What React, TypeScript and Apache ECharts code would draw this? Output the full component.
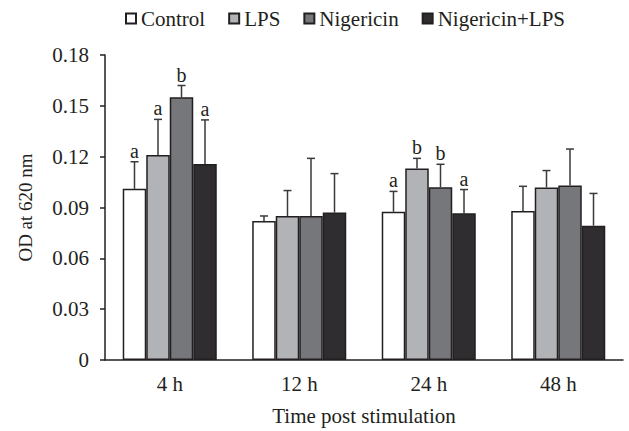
import React, { useEffect, useRef } from "react";
import * as echarts from "echarts";

const categories = ["4 h", "12 h", "24 h", "48 h"];
const seriesNames = ["Control", "LPS", "Nigericin", "Nigericin+LPS"];
const controlValues = [0.101, 0.082, 0.0875, 0.088];
const controlErrors = [0.016, 0.003, 0.012, 0.0145];
const lpsValues = [0.121, 0.085, 0.113, 0.1018];
const lpsErrors = [0.021, 0.015, 0.006, 0.01];
const nigericinValues = [0.155, 0.085, 0.102, 0.103];
const nigericinErrors = [0.007, 0.034, 0.0135, 0.0215];
const nigLpsValues = [0.1157, 0.087, 0.0866, 0.0793];
const nigLpsErrors = [0.026, 0.023, 0.014, 0.019];
const controlLetters = ["a", "", "a", ""];
const lpsLetters = ["a", "", "b", ""];
const nigericinLetters = ["b", "", "b", ""];
const nigLpsLetters = ["a", "", "a", ""];
const yTicks = [0, 0.03, 0.06, 0.09, 0.12, 0.15, 0.18];

const FONT = "Liberation Serif";
const INK = "#231f20";
const colors = ["#ffffff", "#b2b3b7", "#76777b", "#2f2d2f"];
const GAP = 0.274;

export default function App() {
  const ref = useRef<HTMLDivElement>(null);
  useEffect(() => {
    if (!ref.current) return;
    const chart = echarts.init(ref.current, null, { renderer: "svg" });
    const values = [controlValues, lpsValues, nigericinValues, nigLpsValues];
    const errors = [controlErrors, lpsErrors, nigericinErrors, nigLpsErrors];
    const letters = [controlLetters, lpsLetters, nigericinLetters, nigLpsLetters];

    const barSeries = values.map((vals, i) => ({
      name: seriesNames[i],
      type: "bar",
      data: vals,
      barGap: "0%",
      barCategoryGap: GAP * 100 + "%",
      itemStyle: { color: colors[i], borderColor: INK, borderWidth: 1.5 },
    }));

    const errSeries = values.map((vals, si) => ({
      type: "custom",
      data: vals.map((v, ci) => [ci, v, errors[si][ci]]),
      z: 5,
      renderItem: (params: any, api: any) => {
        const ci = api.value(0);
        const mean = api.value(1);
        const err = api.value(2);
        const letter = letters[si][ci];
        const band = api.size([1, 0])[0];
        const bw = (band * (1 - GAP)) / 4;
        const base = api.coord([ci, mean]);
        const top = api.coord([ci, mean + err]);
        const x = base[0] + (si - 1.5) * bw;
        const children: any[] = [
          {
            type: "line",
            shape: { x1: x, y1: base[1], x2: x, y2: top[1] },
            style: { stroke: "#3a3a3c", lineWidth: 1.5 },
          },
          {
            type: "line",
            shape: { x1: x - 4, y1: top[1], x2: x + 4, y2: top[1] },
            style: { stroke: "#3a3a3c", lineWidth: 1.5 },
          },
        ];
        if (letter) {
          children.push({
            type: "text",
            style: {
              text: letter,
              x: x,
              y: top[1] - 1,
              align: "center",
              verticalAlign: "bottom",
              fontSize: 20,
              fontFamily: FONT,
              fill: INK,
            },
          });
        }
        return { type: "group", children };
      },
    }));

    chart.setOption({
      animation: false,
      backgroundColor: "#ffffff",
      textStyle: { fontFamily: FONT },
      legend: {
        data: seriesNames,
        left: 120,
        top: 3,
        icon: "rect",
        itemWidth: 10,
        itemHeight: 10,
        itemGap: 23,
        textStyle: { fontSize: 21, fontFamily: FONT, color: INK },
      },
      grid: { left: 105, right: 6, top: 55, bottom: 69, containLabel: false },
      xAxis: {
        type: "category",
        data: categories,
        name: "Time post stimulation",
        nameLocation: "middle",
        nameGap: 45,
        nameTextStyle: { fontSize: 21, fontFamily: FONT, color: INK },
        axisLine: { lineStyle: { color: INK, width: 1.5 } },
        axisTick: { show: false },
        axisLabel: { fontSize: 21, fontFamily: FONT, color: INK, margin: 13 },
      },
      yAxis: {
        type: "value",
        min: yTicks[0],
        max: yTicks[yTicks.length - 1],
        interval: yTicks[1] - yTicks[0],
        name: "OD at 620 nm",
        nameLocation: "middle",
        nameRotate: 90,
        nameGap: 70,
        nameTextStyle: { fontSize: 19, fontFamily: FONT, color: INK },
        axisLine: { show: true, lineStyle: { color: INK, width: 1.5 } },
        axisTick: { show: true, inside: false, length: 5, lineStyle: { color: INK, width: 1.5 } },
        splitLine: { show: false },
        axisLabel: {
          fontSize: 21,
          fontFamily: FONT,
          color: INK,
          margin: 16,
          formatter: (v: number) => (v === 0 ? "0" : v.toFixed(2)),
        },
      },
      series: [...barSeries, ...errSeries],
    });
    return () => chart.dispose();
  }, []);
  return (
    <div
      ref={ref}
      style={{ position: "fixed", left: 0, top: 0, width: 629, height: 431 }}
    />
  );
}
